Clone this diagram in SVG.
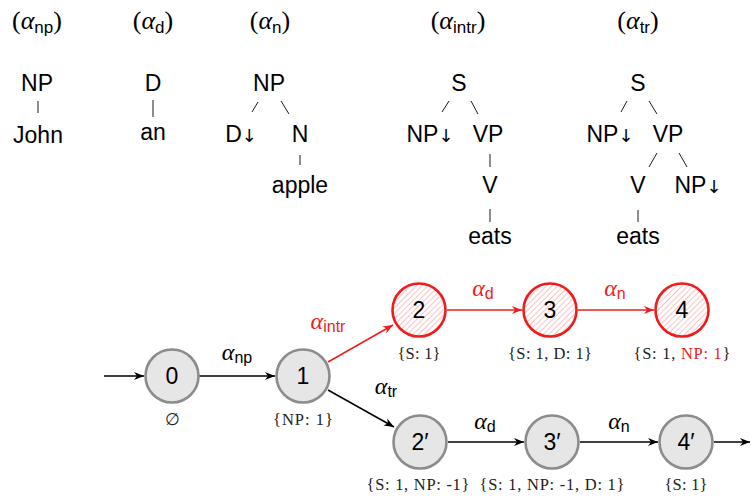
<svg xmlns="http://www.w3.org/2000/svg" width="751" height="497" viewBox="0 0 751 497">
<style>
.t{font-family:"Liberation Sans",Arial,sans-serif;font-size:23px;fill:#000;text-anchor:middle}
.dn{font-family:"DejaVu Sans",sans-serif;font-size:18px;fill:#000}
.ttl{font-family:"Liberation Serif",serif;font-size:26px;text-anchor:middle}
.al{font-family:"Liberation Serif",serif;font-style:italic}
.sub{font-family:"Liberation Sans",sans-serif;font-style:normal;font-size:17px}
.el{font-family:"Liberation Serif",serif;font-size:24px;text-anchor:middle}
.esub{font-family:"Liberation Sans",sans-serif;font-size:16px}
.tl{stroke:#000;stroke-width:0.9}
.n{fill:#e6e6e6;stroke:#8c8c8c;stroke-width:2.6}
.nr{fill:url(#hatch);stroke:#ee1c1c;stroke-width:2.6}
.nl{font-family:"Liberation Sans",Arial,sans-serif;font-size:23px;text-anchor:middle;fill:#000}
.lab{font-family:"Liberation Serif","DejaVu Serif",serif;font-size:16.5px;text-anchor:middle;fill:#222}
.e{stroke:#000;stroke-width:1.5;fill:none;marker-end:url(#ar)}
.er{stroke:#ee1c1c;stroke-width:1.5;fill:none;marker-end:url(#arr)}
.red{fill:#ee1c1c}
</style>
<defs>
<pattern id="hatch" width="4" height="4" patternUnits="userSpaceOnUse" patternTransform="rotate(45)">
<rect width="4" height="4" fill="#fff"/>
<line x1="0" y1="0" x2="0" y2="4" stroke="#f59a9a" stroke-width="1.2"/>
</pattern>
<marker id="ar" markerWidth="12" markerHeight="10" refX="10" refY="5" orient="auto" markerUnits="userSpaceOnUse">
<path d="M0,1 L10,5 L0,9 L3,5 Z" fill="#000"/>
</marker>
<marker id="arr" markerWidth="12" markerHeight="10" refX="10" refY="5" orient="auto" markerUnits="userSpaceOnUse">
<path d="M0,1 L10,5 L0,9 L3,5 Z" fill="#ee1c1c"/>
</marker>
</defs>

<g id="tree-np">
<text class="ttl" x="37" y="29">(<tspan class="al">α</tspan><tspan class="sub" dy="4">np</tspan><tspan dy="-4">)</tspan></text>
<text class="t" x="37" y="91">NP</text>
<line class="tl" x1="38" y1="101" x2="38" y2="113"/>
<text class="t" x="38" y="143">John</text>
</g>
<g id="tree-d">
<text class="ttl" x="153" y="29">(<tspan class="al">α</tspan><tspan class="sub" dy="4">d</tspan><tspan dy="-4">)</tspan></text>
<text class="t" x="153" y="91">D</text>
<line class="tl" x1="153" y1="100" x2="153" y2="117"/>
<text class="t" x="153" y="140">an</text>
</g>
<g id="tree-n">
<text class="ttl" x="270" y="29">(<tspan class="al">α</tspan><tspan class="sub" dy="4">n</tspan><tspan dy="-4">)</tspan></text>
<text class="t" x="269" y="91">NP</text>
<line class="tl" x1="258" y1="102" x2="252" y2="112"/>
<line class="tl" x1="281" y1="101" x2="289" y2="114"/>
<text class="t" x="241" y="142">D<tspan class="dn">↓</tspan></text>
<text class="t" x="300" y="142">N</text>
<line class="tl" x1="300" y1="155" x2="300" y2="165"/>
<text class="t" x="300" y="193">apple</text>
</g>
<g id="tree-intr">
<text class="ttl" x="458" y="29">(<tspan class="al">α</tspan><tspan class="sub" dy="4">intr</tspan><tspan dy="-4">)</tspan></text>
<text class="t" x="459" y="91">S</text>
<line class="tl" x1="449" y1="101" x2="442" y2="112"/>
<line class="tl" x1="471" y1="101" x2="478" y2="114"/>
<text class="t" x="430" y="142">NP<tspan class="dn">↓</tspan></text>
<text class="t" x="488" y="142">VP</text>
<line class="tl" x1="490" y1="154" x2="490" y2="167"/>
<text class="t" x="490" y="193">V</text>
<line class="tl" x1="490" y1="209" x2="490" y2="222"/>
<text class="t" x="490" y="244">eats</text>
</g>
<g id="tree-tr">
<text class="ttl" x="638" y="29">(<tspan class="al">α</tspan><tspan class="sub" dy="4">tr</tspan><tspan dy="-4">)</tspan></text>
<text class="t" x="638" y="91">S</text>
<line class="tl" x1="627" y1="101" x2="621" y2="112"/>
<line class="tl" x1="649" y1="101" x2="657" y2="114"/>
<text class="t" x="610" y="142">NP<tspan class="dn">↓</tspan></text>
<text class="t" x="668" y="142">VP</text>
<line class="tl" x1="657" y1="153" x2="649" y2="167"/>
<line class="tl" x1="679" y1="153" x2="687" y2="167"/>
<text class="t" x="638" y="193">V</text>
<text class="t" x="698" y="193">NP<tspan class="dn">↓</tspan></text>
<line class="tl" x1="638" y1="210" x2="638" y2="222"/>
<text class="t" x="638" y="244">eats</text>
</g>

<g id="connectors">
<line class="e" x1="104" y1="376" x2="144" y2="376"/>
<line class="e" x1="199" y1="376" x2="275" y2="376"/>
<line class="er" x1="328" y1="362" x2="393" y2="325"/>
<line class="e" x1="328" y1="390" x2="394" y2="427"/>
<line class="er" x1="447" y1="310" x2="522" y2="310"/>
<line class="er" x1="578" y1="310" x2="654" y2="310"/>
<line class="e" x1="448" y1="442" x2="524" y2="442"/>
<line class="e" x1="580" y1="442" x2="658" y2="442"/>
<line class="e" x1="714" y1="442" x2="750" y2="442"/>
<text class="el" x="237" y="360"><tspan class="al">α</tspan><tspan class="esub" dy="3">np</tspan></text>
<text class="el red" x="328" y="329"><tspan class="al">α</tspan><tspan class="esub" dy="3">intr</tspan></text>
<text class="el" x="386" y="394"><tspan class="al">α</tspan><tspan class="esub" dy="3">tr</tspan></text>
<text class="el red" x="483" y="296"><tspan class="al">α</tspan><tspan class="esub" dy="3">d</tspan></text>
<text class="el red" x="615" y="296"><tspan class="al">α</tspan><tspan class="esub" dy="3">n</tspan></text>
<text class="el" x="485" y="429"><tspan class="al">α</tspan><tspan class="esub" dy="3">d</tspan></text>
<text class="el" x="619" y="429"><tspan class="al">α</tspan><tspan class="esub" dy="3">n</tspan></text>
</g>

<g id="node-0">
<circle class="n" cx="172" cy="376" r="26.5"/>
<text class="nl" x="172" y="384">0</text>
<text class="lab" x="172" y="425">∅</text>
</g>
<g id="node-1">
<circle class="n" cx="303" cy="376" r="26.5"/>
<text class="nl" x="303" y="384">1</text>
<text class="lab" x="303" y="425" textLength="60" lengthAdjust="spacing">{NP: 1}</text>
</g>
<g id="node-2">
<circle class="nr" cx="419" cy="310" r="26.5"/>
<text class="nl" x="419" y="318">2</text>
<text class="lab" x="419" y="359" textLength="43" lengthAdjust="spacing">{S: 1}</text>
</g>
<g id="node-3">
<circle class="nr" cx="550" cy="310" r="26.5"/>
<text class="nl" x="550" y="318">3</text>
<text class="lab" x="550" y="359" textLength="84" lengthAdjust="spacing">{S: 1, D: 1}</text>
</g>
<g id="node-4">
<circle class="nr" cx="682" cy="310" r="26.5"/>
<text class="nl" x="682" y="318">4</text>
<text class="lab" x="682" y="359" textLength="97" lengthAdjust="spacing">{S: 1, <tspan class="red">NP: 1</tspan>}</text>
</g>
<g id="node-2p">
<circle class="n" cx="420" cy="442" r="26.5"/>
<text class="nl" x="420" y="450">2′</text>
<text class="lab" x="418" y="490" textLength="103" lengthAdjust="spacing">{S: 1, NP: -1}</text>
</g>
<g id="node-3p">
<circle class="n" cx="552" cy="442" r="26.5"/>
<text class="nl" x="552" y="450">3′</text>
<text class="lab" x="552" y="490" textLength="145" lengthAdjust="spacing">{S: 1, NP: -1, D: 1}</text>
</g>
<g id="node-4p">
<circle class="n" cx="686" cy="442" r="26.5"/>
<text class="nl" x="686" y="450">4′</text>
<text class="lab" x="686" y="490" textLength="43" lengthAdjust="spacing">{S: 1}</text>
</g>
</svg>
